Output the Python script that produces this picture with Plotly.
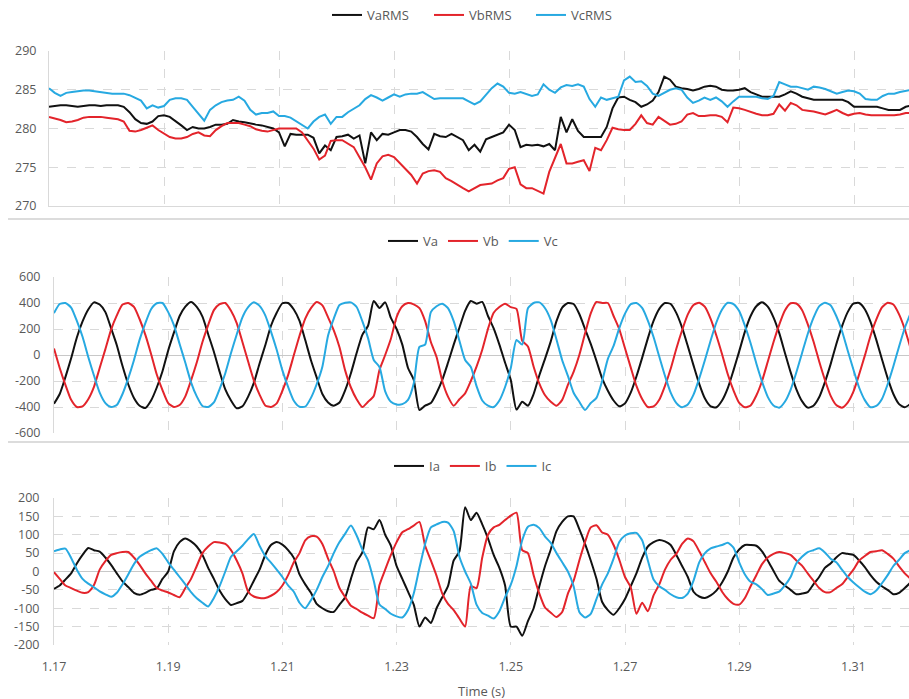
import plotly.graph_objects as go

# Sample instants (s), 1 ms spacing from 1.170 to 1.320
time_s = [round(1.170 + 0.001 * i, 3) for i in range(151)]

# RMS voltages (V)
va_rms = [282.8, 282.9, 283.0, 283.0, 282.9, 282.8, 282.9, 283.0, 283.0, 282.9,
          283.0, 283.0, 283.0, 282.8, 282.1, 281.2, 280.7, 280.6, 280.9, 281.6,
          281.7, 281.5, 281.0, 280.4, 279.8, 280.2, 280.0, 280.0, 280.2, 280.5,
          280.5, 280.6, 281.1, 280.9, 280.8, 280.6, 280.5, 280.4, 280.2, 280.0,
          279.5, 277.7, 279.3, 279.2, 279.2, 279.2, 278.8, 276.8, 277.8, 277.2,
          278.9, 279.0, 279.2, 278.7, 279.1, 275.5, 279.5, 278.5, 279.3, 279.2,
          279.5, 279.8, 279.8, 279.6, 278.9, 278.0, 277.3, 279.3, 279.0, 278.9,
          279.3, 278.9, 278.5, 277.2, 277.9, 277.0, 278.6, 278.9, 279.2, 279.5,
          280.5, 279.8, 277.6, 277.9, 277.8, 277.9, 277.7, 278.0, 277.2, 281.5,
          279.5, 281.2, 279.7, 278.9, 278.9, 278.9, 278.9, 280.2, 282.6, 284.0,
          284.1, 283.7, 283.4, 282.8, 283.1, 283.6, 284.7, 286.7, 286.3, 285.4,
          285.2, 285.1, 284.9, 285.1, 285.4, 285.5, 285.4, 285.0, 284.9, 284.9,
          285.0, 285.2, 284.7, 284.4, 284.1, 284.1, 284.1, 284.1, 284.4, 284.8,
          284.5, 284.1, 283.9, 283.7, 283.7, 283.7, 283.7, 283.7, 283.7, 283.4,
          282.8, 282.8, 282.8, 282.8, 282.8, 282.6, 282.4, 282.4, 282.4, 282.8,
          283.0]
vb_rms = [281.5, 281.3, 281.1, 280.8, 280.9, 281.1, 281.4, 281.5, 281.5, 281.5,
          281.4, 281.3, 281.2, 280.9, 279.7, 279.6, 279.8, 280.1, 280.4, 279.8,
          279.3, 278.9, 278.7, 278.7, 278.9, 279.3, 279.5, 279.1, 279.0, 279.8,
          280.3, 280.7, 280.7, 280.7, 280.5, 280.3, 279.9, 279.7, 279.6, 279.8,
          280.0, 280.0, 280.0, 280.0, 279.5, 278.5, 277.4, 276.0, 276.5, 278.4,
          278.5, 278.5, 278.1, 277.6, 276.3, 275.0, 273.4, 275.5, 276.4, 276.6,
          276.3, 275.5, 274.8, 274.0, 272.9, 274.2, 274.5, 274.6, 274.4, 273.6,
          273.2, 272.7, 272.3, 271.9, 272.3, 272.7, 272.8, 272.9, 273.3, 273.6,
          274.8, 275.0, 272.8, 272.3, 272.3, 272.0, 271.6, 274.4, 276.1, 278.0,
          275.5, 275.5, 275.7, 275.9, 274.5, 277.5, 277.2, 278.5, 280.1, 279.9,
          279.8, 279.8, 280.6, 281.7, 280.7, 280.5, 281.5, 281.0, 280.5, 280.6,
          280.9, 281.8, 282.0, 281.6, 281.6, 281.7, 281.7, 281.5, 280.8, 282.7,
          282.6, 282.4, 282.1, 281.9, 281.7, 281.7, 281.9, 283.1, 282.3, 283.3,
          283.0, 282.4, 282.3, 282.2, 282.0, 281.8, 282.1, 282.4, 282.0, 281.7,
          281.9, 282.0, 281.8, 281.7, 281.7, 281.7, 281.7, 281.7, 281.8, 282.0,
          282.0]
vc_rms = [285.2, 284.6, 284.2, 284.6, 284.7, 284.8, 284.9, 284.9, 284.8, 284.7,
          284.6, 284.5, 284.5, 284.5, 284.3, 284.0, 283.6, 282.6, 283.0, 282.7,
          282.9, 283.7, 283.9, 283.9, 283.7, 282.8, 281.9, 281.0, 282.4, 283.0,
          283.4, 283.6, 283.7, 284.1, 283.6, 282.4, 281.8, 282.0, 282.0, 282.2,
          281.6, 281.6, 281.4, 280.9, 280.4, 280.0, 280.9, 281.5, 281.8, 280.6,
          281.5, 281.5, 282.1, 282.6, 283.0, 283.8, 284.3, 284.0, 283.6, 284.0,
          284.4, 284.1, 284.4, 284.5, 284.5, 284.7, 284.2, 283.8, 283.9, 283.9,
          283.9, 283.9, 283.9, 283.5, 283.1, 283.5, 284.4, 285.2, 285.8, 285.4,
          284.6, 284.5, 284.7, 284.5, 284.2, 284.4, 285.7, 285.0, 284.6, 285.3,
          285.6, 285.5, 285.7, 285.4, 283.8, 282.8, 284.0, 283.7, 283.9, 284.1,
          286.2, 286.7, 286.0, 286.1, 285.5, 284.5, 284.2, 284.6, 285.0, 285.2,
          285.0, 284.0, 283.3, 283.6, 284.0, 283.7, 284.0, 283.5, 282.8, 283.5,
          284.1, 284.1, 284.1, 284.1, 283.9, 283.8, 284.2, 286.0, 285.7, 285.4,
          285.4, 285.2, 285.0, 285.4, 285.3, 285.1, 284.8, 284.5, 284.7, 284.9,
          284.8, 284.5, 283.8, 283.7, 283.7, 284.2, 284.5, 284.5, 284.7, 284.9,
          285.0]

# Phase voltages (V)
va = [-375, -300, -170, -25, 135, 258, 350, 405, 388, 330,
      205, 75, -85, -225, -330, -390, -408, -350, -250, -125,
      35, 172, 300, 372, 408, 370, 295, 160, 25, -128,
      -265, -350, -410, -395, -320, -215, -65, 75, 225, 325,
      398, 400, 350, 262, 115, -40, -172, -300, -365, -390,
      -365, -270, -140, 15, 155, 225, 415, 362, 405, 285,
      200, 80, -100, -190, -423, -390, -370, -292, -192, -60,
      80, 210, 340, 415, 395, 408, 300, 205, 80, -60,
      -192, -420, -360, -390, -300, -156, -28, 105, 260, 365,
      400, 392, 315, 200, 85, -45, -180, -275, -350, -395,
      -372, -290, -165, -22, 128, 262, 355, 400, 392, 322,
      210, 68, -80, -222, -335, -395, -402, -350, -255, -118,
      28, 180, 300, 375, 405, 372, 290, 170, 18, -132,
      -262, -355, -405, -390, -325, -210, -72, 82, 220, 330,
      395, 400, 352, 255, 118, -32, -178, -300, -378, -402,
      -375]
vb = [50, -100, -230, -345, -400, -395, -340, -245, -100, 45,
      195, 305, 388, 400, 370, 275, 155, 8, -150, -270,
      -370, -400, -385, -318, -195, -58, 100, 230, 345, 392,
      400, 340, 245, 100, -50, -195, -305, -388, -400, -372,
      -275, -155, -2, 148, 280, 360, 408, 382, 290, 190,
      60, -120, -250, -340, -400, -360, -315, -115, 0, 125,
      292, 375, 400, 390, 360, 260, 100, -15, -200, -320,
      -390, -340, -295, -200, -90, 40, 200, 325, 369, 395,
      368, 355, 110, 66, -90, -220, -310, -360, -390, -345,
      -230, -130, 0, 165, 320, 408, 400, 400, 300, 198,
      52, -95, -238, -338, -400, -396, -345, -238, -106, 50,
      190, 312, 385, 402, 370, 278, 150, 6, -148, -272,
      -368, -402, -388, -312, -200, -52, 98, 232, 342, 398,
      396, 346, 238, 106, -48, -190, -312, -385, -405, -366,
      -282, -150, -5, 148, 272, 366, 402, 388, 312, 198,
      54]
vc = [322, 392, 400, 365, 262, 140, -15, -158, -290, -370,
      -400, -385, -300, -180, -40, 118, 245, 352, 398, 400,
      330, 230, 85, -60, -210, -318, -392, -400, -365, -262,
      -140, 15, 158, 290, 368, 405, 378, 305, 180, 40,
      -118, -245, -352, -398, -398, -330, -225, -90, 150, 280,
      385, 402, 405, 369, 260, 130, -38, -92, -280, -360,
      -380, -378, -345, -220, 62, 80, 330, 375, 395, 360,
      260, 110, -38, -92, -240, -350, -390, -400, -350, -246,
      -100, 115, 80, 360, 400, 405, 360, 269, 120, -40,
      -160, -290, -360, -423, -369, -330, -200, -30, 70, 207,
      318, 390, 400, 362, 265, 138, -12, -160, -290, -370,
      -402, -380, -305, -180, -38, 112, 250, 350, 402, 392,
      338, 225, 90, -65, -205, -322, -388, -405, -360, -268,
      -135, 14, 162, 285, 374, 402, 383, 300, 185, 35,
      -112, -250, -347, -402, -392, -338, -225, -86, 66, 208,
      320]

# Phase currents (A)
ia = [-47, -38, -22, -5, 22, 45, 64, 58, 54, 38,
      18, -5, -27, -42, -58, -63, -58, -50, -46, -20,
      0, 55, 80, 90, 82, 68, 45, 10, -20, -52,
      -75, -91, -86, -80, -56, -25, 5, 45, 72, 80,
      73, 58, 37, -8, -35, -58, -88, -100, -108, -110,
      -90, -70, -20, 26, 52, 120, 115, 140, 100, 70,
      15, -20, -55, -90, -150, -125, -140, -100, -70, -40,
      30, 55, 175, 140, 160, 128, 90, 45, 10, -38,
      -150, -150, -175, -135, -100, -40, 15, 60, 110, 135,
      150, 150, 115, 75, 30, -20, -83, -105, -118, -100,
      -75, -40, -5, 37, 68, 80, 86, 82, 72, 45,
      15, -15, -55, -68, -72, -65, -52, -30, 0, 38,
      60, 72, 72, 70, 55, 30, 2, -25, -38, -50,
      -62, -60, -56, -35, -15, 10, 22, 38, 50, 48,
      45, 30, 12, -10, -28, -40, -50, -62, -58, -45,
      -30]
ib = [-2, -20, -38, -45, -52, -58, -56, -37, 5, 28,
      45, 50, 53, 53, 38, 18, -5, -25, -45, -52,
      -57, -64, -70, -45, -20, 15, 50, 68, 80, 79,
      75, 58, 30, -5, -55, -68, -72, -72, -66, -56,
      -38, -10, 25, 50, 85, 96, 95, 75, 35, 0,
      -45, -70, -93, -102, -112, -120, -127, -37, 5, 45,
      80, 107, 115, 125, 135, 70, 30, -12, -60, -88,
      -105, -128, -150, -40, -45, 38, 100, 120, 127, 140,
      152, 160, 58, 50, -10, -60, -98, -112, -124, -110,
      -60, -25, 30, 80, 120, 126, 106, 100, 72, 32,
      -15, -43, -115, -85, -108, -65, -35, 5, 32, 48,
      75, 90, 82, 55, 25, -5, -28, -55, -75, -88,
      -90, -72, -40, -10, 20, 38, 48, 53, 50, 45,
      30, 16, -5, -25, -45, -56, -56, -45, -35, -15,
      5, 30, 42, 53, 55, 58, 48, 35, 14, -5,
      -20]
ic = [55, 60, 62, 37, 5, -20, -33, -43, -54, -62,
      -69, -58, -35, -8, 20, 40, 50, 58, 63, 48,
      25, 5, -15, -35, -56, -73, -85, -95, -72, -40,
      0, 40, 55, 70, 88, 102, 70, 42, 24, 5,
      -15, -38, -55, -85, -100, -78, -50, -15, 15, 50,
      80, 103, 125, 98, 60, 30, -25, -90, -102, -115,
      -122, -125, -105, -60, 10, 75, 120, 128, 135, 133,
      110, 40, 0, -33, -90, -113, -120, -128, -108, -70,
      -36, 15, 85, 122, 127, 118, 95, 78, 50, 25,
      0, -40, -110, -125, -115, -75, -35, -5, 35, 80,
      98, 104, 105, 85, 30, -22, -40, -50, -62, -70,
      -72, -60, -25, 25, 50, 63, 68, 72, 78, 65,
      25, -8, -28, -35, -48, -64, -60, -55, -38, -15,
      22, 40, 53, 58, 63, 52, 35, 25, 5, -15,
      -30, -43, -55, -62, -52, -32, -10, 15, 32, 50,
      58]

rms_ticks = [270, 275, 280, 285, 290]
volt_ticks = [-600, -400, -200, 0, 200, 400, 600]
curr_ticks = [-200, -150, -100, -50, 0, 50, 100, 150, 200]
time_ticks = [1.17, 1.19, 1.21, 1.23, 1.25, 1.27, 1.29, 1.31]

for name, arr in [("va_rms", va_rms), ("vb_rms", vb_rms), ("vc_rms", vc_rms),
                  ("va", va), ("vb", vb), ("vc", vc),
                  ("ia", ia), ("ib", ib), ("ic", ic)]:
    if len(arr) != len(time_s):
        raise ValueError(f"{name} has {len(arr)} points, expected {len(time_s)}")

BLACK = "#111111"
RED = "#e3242b"
BLUE = "#27a9e1"
GRID = "#d9d9d9"
TEXT = "#595959"
FONT = "Open Sans, Liberation Sans, sans-serif"

fig = go.Figure()

# (x axis, y axis, legend, line shape, series)
groups = [
    ("x", "y", "legend", "linear",
     [("VaRMS", va_rms, BLACK), ("VbRMS", vb_rms, RED), ("VcRMS", vc_rms, BLUE)]),
    ("x2", "y2", "legend2", "spline",
     [("Va", va, BLACK), ("Vb", vb, RED), ("Vc", vc, BLUE)]),
    ("x3", "y3", "legend3", "spline",
     [("Ia", ia, BLACK), ("Ib", ib, RED), ("Ic", ic, BLUE)]),
]
for xa, ya, lg, shape, series in groups:
    for name, vals, col in series:
        line = dict(color=col, width=2, shape=shape)
        if shape == "spline":
            line["smoothing"] = 0.6
        fig.add_trace(go.Scatter(
            x=time_s, y=vals, name=name, mode="lines", line=line,
            xaxis=xa, yaxis=ya, legend=lg,
        ))

H = 699.0
W = 909.0


def ydom(top_px, bottom_px):
    return [(H - bottom_px) / H, (H - top_px) / H]


def xaxis_cfg(left_px, scale_px_per_s, show_labels, line):
    end = 1.17 + (W - left_px) / scale_px_per_s
    return dict(
        domain=[left_px / W, 1.0], range=[1.17, end],
        tickmode="array", tickvals=time_ticks,
        ticktext=[f"{v:.2f}" for v in time_ticks],
        showticklabels=show_labels,
        ticks="outside", ticklen=10, tickcolor="rgba(0,0,0,0)",
        showgrid=True, gridcolor=GRID, griddash="dash", gridwidth=1,
        showline=line, linecolor=GRID, linewidth=1,
        zeroline=False, automargin=False,
        tickfont=dict(family=FONT, size=12.5, color=TEXT),
    )


def yaxis_cfg(dom, ticks, anchor, zero, gap):
    return dict(
        domain=dom, range=[ticks[0], ticks[-1]], anchor=anchor,
        tickmode="array", tickvals=ticks, ticktext=[str(v) for v in ticks],
        ticks="outside", ticklen=gap, tickcolor="rgba(0,0,0,0)",
        showgrid=True, gridcolor=GRID, griddash="dash", gridwidth=1,
        showline=True, linecolor=GRID, linewidth=1,
        zeroline=zero, zerolinecolor="#c8c8c8", zerolinewidth=1.3,
        automargin=False,
        tickfont=dict(family=FONT, size=12.5, color=TEXT),
    )


legend_common = dict(
    orientation="h", xanchor="center",
    font=dict(family=FONT, size=13, color=TEXT),
    bgcolor="rgba(0,0,0,0)", itemwidth=30, tracegroupgap=0,
)

fig.update_layout(
    width=909, height=699,
    margin=dict(l=0, r=0, t=0, b=0, autoexpand=False),
    paper_bgcolor="white", plot_bgcolor="white",
    font=dict(family=FONT, color=TEXT),
    xaxis=xaxis_cfg(49, 5750.0, False, True) | dict(anchor="y"),
    xaxis2=xaxis_cfg(54, 5710.0, False, False) | dict(anchor="y2"),
    xaxis3=xaxis_cfg(54, 5710.0, True, False) | dict(anchor="y3"),
    yaxis=yaxis_cfg(ydom(51, 206), rms_ticks, "x", False, 9),
    yaxis2=yaxis_cfg(ydom(277, 433), volt_ticks, "x2", True, 10),
    yaxis3=yaxis_cfg(ydom(498, 645), curr_ticks, "x3", True, 11),
    legend=legend_common | dict(x=480 / W, y=1.0, yanchor="top",
                                entrywidth=57, entrywidthmode="pixels"),
    legend2=legend_common | dict(x=473 / W, y=(H - 241) / H, yanchor="middle"),
    legend3=legend_common | dict(x=473 / W, y=(H - 466) / H, yanchor="middle"),
    showlegend=True,
)

# Chart separators between the three stacked panels
for ypx in (219, 442):
    fig.add_shape(type="line", xref="paper", yref="paper",
                  x0=8 / W, x1=1.0, y0=(H - ypx) / H, y1=(H - ypx) / H,
                  line=dict(color="#dcdcdc", width=2))

fig.add_annotation(text="Time (s)", xref="paper", yref="paper",
                   x=481 / W, y=(H - 691) / H, xanchor="center", yanchor="middle",
                   showarrow=False, font=dict(family=FONT, size=13, color=TEXT))

fig.write_html("out.html")
